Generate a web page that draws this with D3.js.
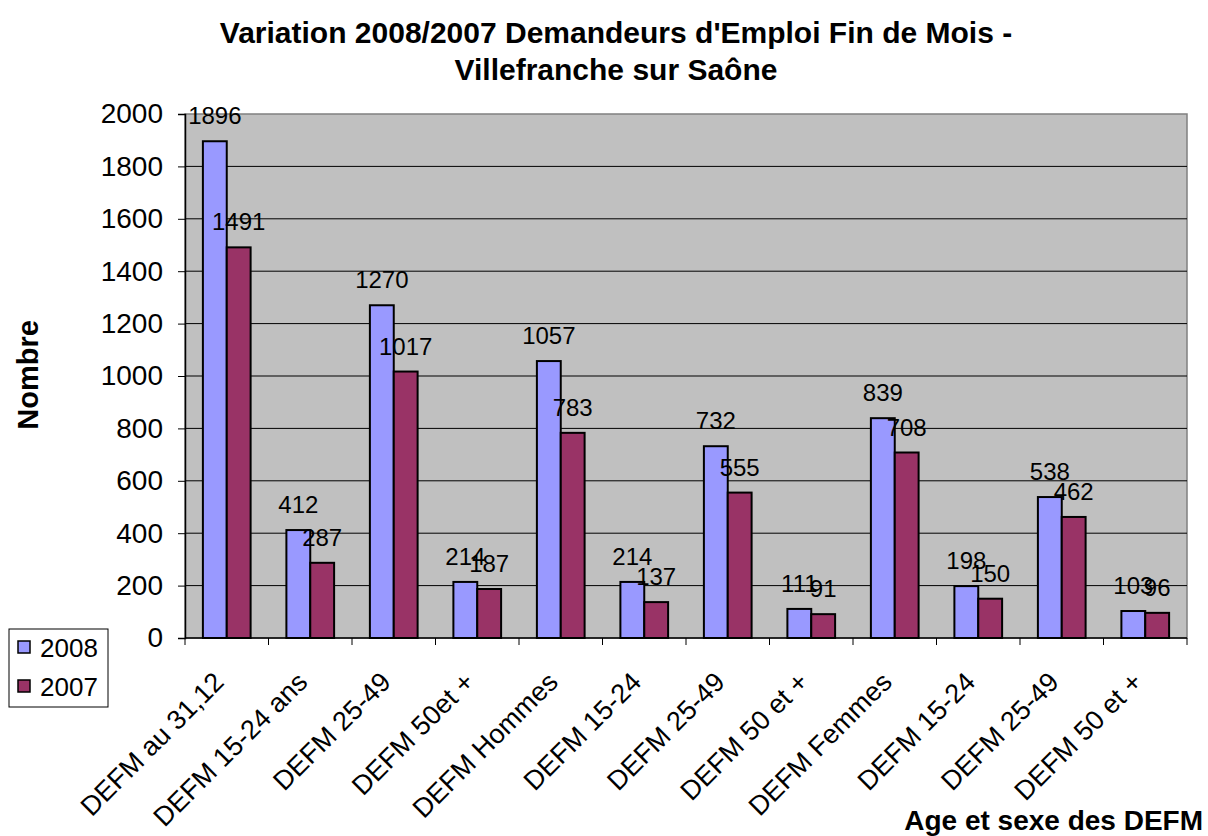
<!DOCTYPE html>
<html lang="fr">
<head>
<meta charset="UTF-8">
<title>Variation 2008/2007 DEFM</title>
<script src="https://d3js.org/d3.v7.min.js"></script>
<style>
  body { margin: 0; background: #fff; }
  svg text { font-family: "Liberation Sans", Arial, sans-serif; fill: #000; }
</style>
</head>
<body>
<div id="chart"></div>
<script>
// data
var categories = ["DEFM au 31,12", "DEFM 15-24 ans", "DEFM 25-49", "DEFM 50et +",
                  "DEFM Hommes", "DEFM 15-24", "DEFM 25-49", "DEFM 50 et +",
                  "DEFM Femmes", "DEFM 15-24", "DEFM 25-49", "DEFM 50 et +"];
var values2008 = [1896, 412, 1270, 214, 1057, 214, 732, 111, 839, 198, 538, 103];
var values2007 = [1491, 287, 1017, 187, 783, 137, 555, 91, 708, 150, 462, 96];
var yTicks = [0, 200, 400, 600, 800, 1000, 1200, 1400, 1600, 1800, 2000];
var seriesNames = ["2008", "2007"];
var colors = ["#9999FF", "#993366"];

var W = 1208, H = 836;
var plot = {left: 185, top: 114, right: 1187, bottom: 638};

var svg = d3.select("#chart").append("svg")
    .attr("width", W).attr("height", H);

var idx = d3.range(categories.length);
var x = d3.scaleBand().domain(idx).range([plot.left, plot.right]).padding(0);
var barW = x.bandwidth() / 3.5;   // excel gap width 150%
var y = d3.scaleLinear().domain([0, 2000]).range([plot.bottom, plot.top]);

// plot background
svg.append("rect")
    .attr("x", plot.left).attr("y", plot.top)
    .attr("width", plot.right - plot.left).attr("height", plot.bottom - plot.top)
    .attr("fill", "#C0C0C0").attr("stroke", "#808080").attr("stroke-width", 1.5);

// gridlines
svg.append("g").selectAll("line")
    .data(yTicks.filter(function(d){ return d > 0 && d < 2000; }))
    .enter().append("line")
      .attr("x1", plot.left).attr("x2", plot.right)
      .attr("y1", function(d){ return y(d); }).attr("y2", function(d){ return y(d); })
      .attr("stroke", "#000").attr("stroke-width", 1);

// bars
var series = [values2008, values2007];
series.forEach(function(vals, s) {
  svg.append("g").selectAll("rect")
    .data(vals)
    .enter().append("rect")
      .attr("x", function(d, i){ return x(i) + barW * 0.75 + s * barW; })
      .attr("y", function(d){ return y(d); })
      .attr("width", barW)
      .attr("height", function(d){ return y(0) - y(d); })
      .attr("fill", colors[s])
      .attr("stroke", "#000").attr("stroke-width", 2);
});

// data labels
series.forEach(function(vals, s) {
  svg.append("g").selectAll("text")
    .data(vals)
    .enter().append("text")
      .attr("x", function(d, i){ return x(i) + barW * 0.75 + s * barW + barW / 2; })
      .attr("y", function(d){ return y(d) - 17; })
      .attr("text-anchor", "middle")
      .style("font-size", "24px")
      .text(function(d){ return d; });
});

// y axis
var yAxis = svg.append("g")
    .attr("transform", "translate(" + plot.left + ",0)")
    .call(d3.axisLeft(y).tickValues(yTicks).tickSize(7).tickPadding(15).tickFormat(d3.format("d")));
yAxis.select(".domain").attr("stroke", "#000").attr("stroke-width", 1.5);
yAxis.selectAll(".tick line").attr("stroke", "#000");
yAxis.selectAll("text").style("font-size", "28px");

// x axis line and tick marks between categories
svg.append("line")
    .attr("x1", plot.left).attr("x2", plot.right)
    .attr("y1", plot.bottom).attr("y2", plot.bottom)
    .attr("stroke", "#000").attr("stroke-width", 1.5);
svg.append("g").selectAll("line")
    .data(d3.range(categories.length + 1))
    .enter().append("line")
      .attr("x1", function(i){ return plot.left + i * x.bandwidth(); })
      .attr("x2", function(i){ return plot.left + i * x.bandwidth(); })
      .attr("y1", plot.bottom).attr("y2", plot.bottom + 7)
      .attr("stroke", "#000");

// category labels, rotated
svg.append("g").selectAll("text")
    .data(idx)
    .enter().append("text")
      .attr("text-anchor", "end")
      .attr("dy", "0.35em")
      .attr("transform", function(i){
        return "translate(" + (x(i) + x.bandwidth() / 2 - 8) + "," + 677 + ") rotate(-45)";
      })
      .style("font-size", "27px")
      .text(function(i){ return categories[i]; });

// title
svg.append("text").attr("x", 616).attr("y", 43)
    .attr("text-anchor", "middle").style("font-size", "30px").style("font-weight", "bold")
    .text("Variation 2008/2007 Demandeurs d'Emploi Fin de Mois -");
svg.append("text").attr("x", 616).attr("y", 80)
    .attr("text-anchor", "middle").style("font-size", "30px").style("font-weight", "bold")
    .text("Villefranche sur Saône");

// axis titles
svg.append("text")
    .attr("transform", "translate(38,375) rotate(-90)")
    .attr("text-anchor", "middle").style("font-size", "29px").style("font-weight", "bold")
    .text("Nombre");
svg.append("text").attr("x", 1203).attr("y", 830)
    .attr("text-anchor", "end").style("font-size", "28px").style("font-weight", "bold")
    .text("Age et sexe des DEFM");

// legend
var lg = svg.append("g").attr("transform", "translate(9,629)");
lg.append("rect").attr("width", 99).attr("height", 78)
    .attr("fill", "#fff").attr("stroke", "#000").attr("stroke-width", 1);
seriesNames.forEach(function(name, i) {
  lg.append("rect").attr("x", 9).attr("y", 12 + i * 39)
      .attr("width", 12).attr("height", 12)
      .attr("fill", colors[i]).attr("stroke", "#000").attr("stroke-width", 1.5);
  lg.append("text").attr("x", 31).attr("y", 28 + i * 39)
      .style("font-size", "26px").text(name);
});
</script>
</body>
</html>
